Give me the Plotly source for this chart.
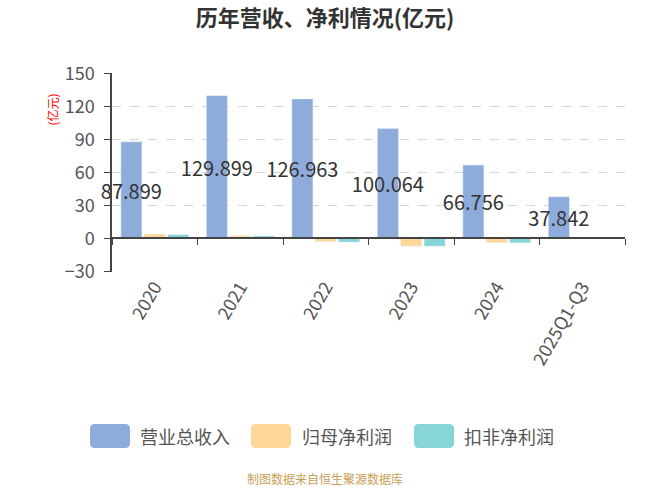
import plotly.graph_objects as go

categories = ["2020", "2021", "2022", "2023", "2024", "2025Q1-Q3"]
revenue = [87.899, 129.899, 126.963, 100.064, 66.756, 37.842]
net_profit = [4.0, 2.5, -2.8, -7.0, -3.7, 0.9]
deducted_profit = [3.5, 2.3, -3.3, -7.0, -4.0, 0.7]
series_names = ["营业总收入", "归母净利润", "扣非净利润"]
colors = ["#8EACDB", "#FFD897", "#86D5D8"]
y_ticks = [-30, 0, 30, 60, 90, 120, 150]

W, H = 650, 488
L, R, T, B = 112, 25, 73, 216
PW, PH = W - L - R, H - T - B
FONT = "Noto Sans CJK SC"


def px(x):
    return (x - L) / PW


def py(y):
    return (H - B - y) / PH


def rounded_rect_path(x0, y0, x1, y1, r):
    # pixel coords -> paper coords path with rounded corners
    pts = []
    pts.append(f"M {px(x0 + r)},{py(y0)}")
    pts.append(f"L {px(x1 - r)},{py(y0)}")
    pts.append(f"Q {px(x1)},{py(y0)} {px(x1)},{py(y0 + r)}")
    pts.append(f"L {px(x1)},{py(y1 - r)}")
    pts.append(f"Q {px(x1)},{py(y1)} {px(x1 - r)},{py(y1)}")
    pts.append(f"L {px(x0 + r)},{py(y1)}")
    pts.append(f"Q {px(x0)},{py(y1)} {px(x0)},{py(y1 - r)}")
    pts.append(f"L {px(x0)},{py(y0 + r)}")
    pts.append(f"Q {px(x0)},{py(y0)} {px(x0 + r)},{py(y0)}")
    pts.append("Z")
    return " ".join(pts)


fig = go.Figure()
fig.add_trace(go.Bar(
    x=categories, y=revenue, name=series_names[0], marker_color=colors[0],
    text=[f"{v:.3f}" for v in revenue], textposition="inside", textangle=0,
    insidetextanchor="middle", constraintext="none", cliponaxis=False,
    textfont=dict(size=20, color="#333333", family=FONT), showlegend=False,
))
fig.add_trace(go.Bar(x=categories, y=net_profit, name=series_names[1],
                     marker_color=colors[1], showlegend=False))
fig.add_trace(go.Bar(x=categories, y=deducted_profit, name=series_names[2],
                     marker_color=colors[2], showlegend=False))

# invisible trace that only carries the zero-level category axis
fig.add_trace(go.Scatter(x=categories, y=[0] * len(categories), xaxis="x2",
                         mode="markers", marker=dict(opacity=0),
                         showlegend=False, hoverinfo="skip"))

pad = 0.5
fig.update_layout(
    width=W, height=H,
    margin=dict(l=L, r=R, t=T, b=B),
    paper_bgcolor="white", plot_bgcolor="white",
    barmode="group", bargap=0.18, bargroupgap=0.1,
    font=dict(family=FONT, color="#555555"),
    title=dict(text="<b>历年营收、净利情况(亿元)</b>", x=0.5, xref="container",
               xanchor="center", y=1 - 18 / H, yanchor="middle",
               font=dict(size=22, color="#333333", family=FONT)),
    xaxis=dict(showline=False, ticks="", tickangle=-60,
               tickfont=dict(size=18, color="#555555", family=FONT),
               showgrid=False, zeroline=False),
    xaxis2=dict(overlaying="x", matches="x", anchor="free",
                position=(0 - y_ticks[0] + pad) / (y_ticks[-1] - y_ticks[0] + 2 * pad),
                side="bottom", showline=True, linecolor="#444444", linewidth=1.5,
                ticks="outside", ticklen=6, tickcolor="#444444",
                tickson="boundaries", showticklabels=False, showgrid=False),
    yaxis=dict(range=[y_ticks[0] - pad, y_ticks[-1] + pad], tickvals=y_ticks,
               showline=True, linecolor="#444444", linewidth=1.5,
               ticks="outside", ticklen=6, tickcolor="#444444",
               ticklabelstandoff=6,
               tickfont=dict(size=18, color="#555555", family=FONT),
               showgrid=True, gridcolor="#D6D6D6", griddash="dash",
               zeroline=False),
    showlegend=False,
)

# y-axis unit label
fig.add_annotation(text="(亿元)", xref="paper", yref="paper",
                   x=px(62), y=py(92), xanchor="right", textangle=-90,
                   showarrow=False,
                   font=dict(size=12, color="#FF0000", family=FONT))

# custom legend
legend_items = [(90, 138), (251, 300), (414, 462)]
for (sx, tx), name, c in zip(legend_items, series_names, colors):
    fig.add_shape(type="path", xref="paper", yref="paper",
                  path=rounded_rect_path(sx, 424, sx + 40, 448, 5),
                  fillcolor=c, line=dict(width=0))
    fig.add_annotation(text=name, xref="paper", yref="paper",
                       x=px(tx), y=py(436), xanchor="left", yanchor="middle",
                       showarrow=False,
                       font=dict(size=18, color="#555555", family=FONT))

fig.add_annotation(text="制图数据来自恒生聚源数据库", xref="paper", yref="paper",
                   x=px(325), y=py(478), xanchor="center", yanchor="middle",
                   showarrow=False,
                   font=dict(size=12, color="#C8A057", family=FONT))

fig.write_html("out.html", config={"displayModeBar": False},
               post_script="document.body.style.margin='0';"
                           "document.body.style.overflow='hidden';")
